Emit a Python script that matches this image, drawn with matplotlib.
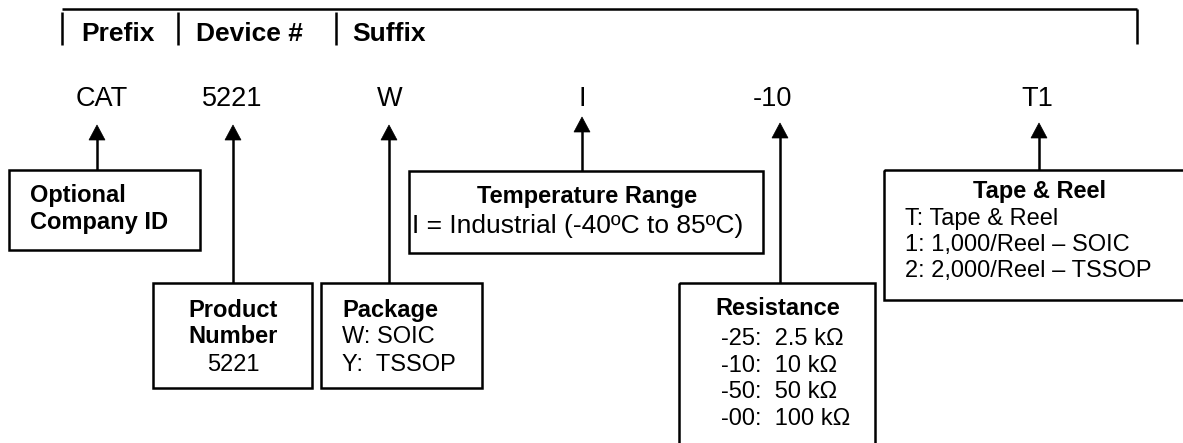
import matplotlib
matplotlib.use("Agg")
import matplotlib.pyplot as plt
from matplotlib.patches import Rectangle, Polygon

plt.rcParams['font.family'] = ['Liberation Sans', 'DejaVu Sans']

# ---- content ----
header_labels = ["Prefix", "Device #", "Suffix"]
code_labels = ["CAT", "5221", "W", "I", "-10", "T1"]
box_titles = ["Optional\nCompany ID", "Product\nNumber", "Package", "Temperature Range",
              "Resistance", "Tape & Reel"]
box_lines = [
    [],
    ["5221"],
    ["W: SOIC", "Y:  TSSOP"],
    ["I = Industrial (-40ºC to 85ºC)"],
    ["-25:  2.5 kΩ", "-10:  10 kΩ", "-50:  50 kΩ", "-00:  100 kΩ"],
    ["T: Tape & Reel", "1: 1,000/Reel – SOIC", "2: 2,000/Reel – TSSOP"],
]

# ---- layout (pixel coordinates) ----
W, H = 1183, 443
fig = plt.figure(figsize=(W / 100, H / 100), dpi=100)
ax = fig.add_axes([0, 0, 1, 1])
ax.set_xlim(0, W)
ax.set_ylim(H, 0)
ax.axis('off')

LW = 1.8
FS_HEAD = 19
FS_CODE = 19.5
FS_BOX = 17

# header bracket
ax.plot([62, 1137], [9, 9], color='black', lw=LW, solid_capstyle='butt')
for xv, y0 in [(62, 12), (178, 12), (336, 12)]:
    ax.plot([xv, xv], [y0, 45], color='black', lw=LW, solid_capstyle='butt')
ax.plot([1137, 1137], [9, 44], color='black', lw=LW, solid_capstyle='butt')
head_pos = [(118, 'center'), (249, 'center'), (352, 'left')]
for lab, (hx, ha) in zip(header_labels, head_pos):
    ax.text(hx, 41, lab, fontsize=FS_HEAD, fontweight='bold', ha=ha, va='baseline')

# code row
code_x = [102, 232, 390, 582, 772, 1037]
for lab, cx in zip(code_labels, code_x):
    ax.text(cx, 106, lab, fontsize=FS_CODE, ha='center', va='baseline')

# boxes: left, top, right, bottom
boxes = [(9, 170, 200, 250), (153, 283, 312, 388), (321, 283, 482, 388),
         (409, 171, 763, 253), (679, 283, 875, 460), (884, 170, 1200, 300)]
for (l, t, r, b) in boxes:
    ax.add_patch(Rectangle((l, t), r - l, b - t, fill=False, ec='black', lw=LW))

# arrows: x, tip y, base y
arrows = [(97, 125, 170), (233, 125, 283), (389, 125, 283), (582, 117, 171),
          (780, 123, 283), (1039, 123, 170)]
AW, AH = 8, 15
for ax_x, tip, base in arrows:
    ax.plot([ax_x, ax_x], [tip + AH - 1, base], color='black', lw=LW, solid_capstyle='butt')
    ax.add_patch(Polygon([(ax_x - AW, tip + AH), (ax_x + AW, tip + AH), (ax_x, tip)],
                         closed=True, fc='black', ec='black', lw=0.5))

# box texts
# Optional Company ID
ax.text(30, 202, "Optional", fontsize=FS_BOX, fontweight='bold', ha='left', va='baseline')
ax.text(30, 229, "Company ID", fontsize=FS_BOX, fontweight='bold', ha='left', va='baseline')
# Product Number
t1, t2 = box_titles[1].split("\n")
ax.text(233, 317, t1, fontsize=FS_BOX, fontweight='bold', ha='center', va='baseline')
ax.text(233, 343, t2, fontsize=FS_BOX, fontweight='bold', ha='center', va='baseline')
ax.text(233, 371, box_lines[1][0], fontsize=FS_BOX, ha='center', va='baseline')
# Package
ax.text(342, 317, box_titles[2], fontsize=FS_BOX, fontweight='bold', ha='left', va='baseline')
for i, ln in enumerate(box_lines[2]):
    ax.text(342, 343 + 28 * i, ln, fontsize=FS_BOX, ha='left', va='baseline')
# Temperature
ax.text(587, 203, box_titles[3], fontsize=FS_BOX, fontweight='bold', ha='center', va='baseline')
ax.text(578, 233, box_lines[3][0], fontsize=19, ha='center', va='baseline')
# Resistance
ax.text(715, 315, box_titles[4], fontsize=FS_BOX, fontweight='bold', ha='left', va='baseline')
for i, ln in enumerate(box_lines[4]):
    ax.text(721, 345 + 26.7 * i, ln, fontsize=FS_BOX, ha='left', va='baseline')
# Tape & Reel
ax.text(1040, 198, box_titles[5], fontsize=FS_BOX, fontweight='bold', ha='center', va='baseline')
for i, ln in enumerate(box_lines[5]):
    ax.text(905, 225 + 26 * i, ln, fontsize=FS_BOX, ha='left', va='baseline')

fig.savefig("out.png", dpi=100)
